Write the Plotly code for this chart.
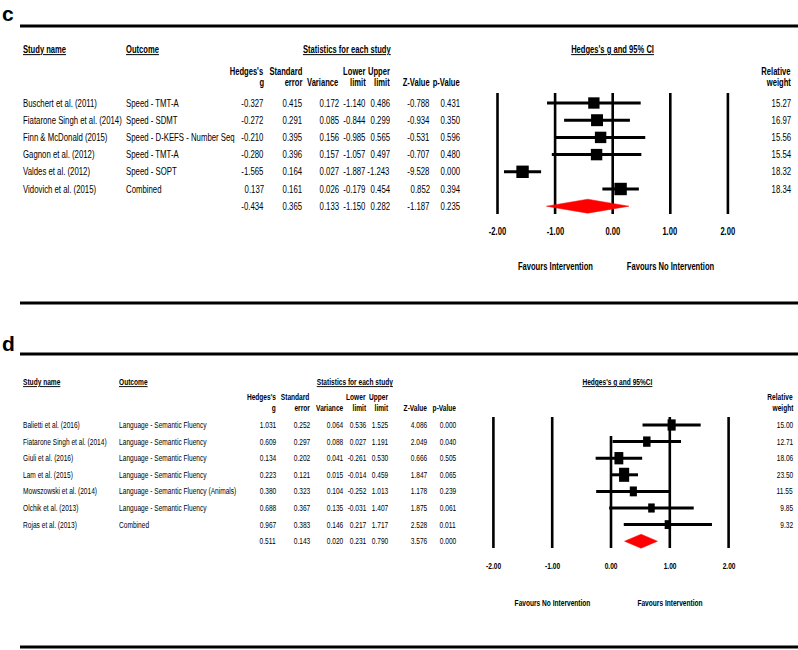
import plotly.graph_objects as go

W, H = 798, 650

# ---------------- data : panel c ----------------
c_studies = ["Buschert et al. (2011)", "Fiatarone Singh et al. (2014)", "Finn & McDonald (2015)",
             "Gagnon et al. (2012)", "Valdes et al. (2012)", "Vidovich et al. (2015)"]
c_outcomes = ["Speed - TMT-A", "Speed - SDMT", "Speed - D-KEFS - Number Seq",
              "Speed - TMT-A", "Speed - SOPT", "Combined"]
c_g = [-0.327, -0.272, -0.210, -0.280, -1.565, 0.137]
c_se = [0.415, 0.291, 0.395, 0.396, 0.164, 0.161]
c_var = [0.172, 0.085, 0.156, 0.157, 0.027, 0.026]
c_lo = [-1.140, -0.844, -0.985, -1.057, -1.887, -0.179]
c_hi = [0.486, 0.299, 0.565, 0.497, -1.243, 0.454]
c_z = [-0.788, -0.934, -0.531, -0.707, -9.528, 0.852]
c_p = [0.431, 0.350, 0.596, 0.480, 0.000, 0.394]
c_w = [15.27, 16.97, 15.56, 15.54, 18.32, 18.34]
c_summary = [-0.434, 0.365, 0.133, -1.150, 0.282, -1.187, 0.235]  # g, se, var, lo, hi, z, p

# ---------------- data : panel d ----------------
d_studies = ["Balietti et al. (2016)", "Fiatarone Singh et al. (2014)", "Giuli et al. (2016)",
             "Lam et al. (2015)", "Mowszowski et al. (2014)", "Olchik et al. (2013)", "Rojas et al. (2013)"]
d_outcomes = ["Language - Semantic Fluency", "Language - Semantic Fluency", "Language - Semantic Fluency",
              "Language - Semantic Fluency", "Language - Semantic Fluency (Animals)",
              "Language - Semantic Fluency", "Combined"]
d_g = [1.031, 0.609, 0.134, 0.223, 0.380, 0.688, 0.967]
d_se = [0.252, 0.297, 0.202, 0.121, 0.323, 0.367, 0.383]
d_var = [0.064, 0.088, 0.041, 0.015, 0.104, 0.135, 0.146]
d_lo = [0.536, 0.027, -0.261, -0.014, -0.252, -0.031, 0.217]
d_hi = [1.525, 1.191, 0.530, 0.459, 1.013, 1.407, 1.717]
d_z = [4.086, 2.049, 0.666, 1.847, 1.178, 1.875, 2.528]
d_p = [0.000, 0.040, 0.505, 0.065, 0.239, 0.061, 0.011]
d_w = [15.00, 12.71, 18.06, 23.50, 11.55, 9.85, 9.32]
d_summary = [0.511, 0.143, 0.020, 0.231, 0.790, 3.576, 0.000]

axis_ticks = [-2.0, -1.0, 0.0, 1.0, 2.0]
col_head1 = ["Hedges's", "Standard", "", "Lower", "Upper", "", ""]
col_head2 = ["g", "error", "Variance", "limit", "limit", "Z-Value", "p-Value"]

SANS = "Liberation Sans, Arial, Helvetica, sans-serif"


def px(x):
    return x / W


def py(y):
    return 1 - y / H


annotations = []
shapes = []
fig = go.Figure()


def txt(text, x, y, yref="paper", xanchor="left", size=10, bold=False, underline=False,
        squeeze=1.0, xref="paper"):
    t = text
    if underline:
        t = "<u>" + t + "</u>"
    if bold:
        t = "<b>" + t + "</b>"
    annotations.append(dict(text=t, x=(px(x) if xref == "paper" else x), y=(py(y) if yref == "paper" else y),
                            xref=xref, yref=yref, xanchor=xanchor, yanchor="middle", showarrow=False,
                            name="%.3f" % squeeze,
                            font=dict(family=SANS, size=size, color="black")))


def panel(S, studies, outcomes, g, se, var, lo, hi, z, p, w, summ):
    xa, ya = S["xa"], S["ya"]
    step, row0 = S["step"], S["row0"]
    n = len(studies)
    sq_n, sq_b = S["sq_n"], S["sq_b"]

    def rowval(ypx):
        return (ypx - row0) / step

    # thick rules + letter
    for yy in S["rules"]:
        shapes.append(dict(type="line", xref="paper", yref="paper", x0=px(20), x1=1, y0=py(yy), y1=py(yy),
                           line=dict(color="black", width=3)))
    txt(S["letter"], 0, S["letter_y"], size=21, bold=True)

    # headers
    hs = S["hsize"]
    txt("Study name", 21, S["head_y"], size=hs, bold=True, underline=True, squeeze=sq_b)
    txt("Outcome", S["out_x"], S["head_y"], size=hs, bold=True, underline=True, squeeze=sq_b)
    txt("Statistics for each study", S["stats_c"], S["head_y"], xanchor="center", size=hs, bold=True,
        underline=True, squeeze=sq_b)
    txt(S["forest_title"], S["forest_c"], S["head_y"], xanchor="center", size=hs, bold=True,
        underline=True, squeeze=sq_b)
    for k, xr in enumerate(S["cols"]):
        if col_head1[k]:
            txt(col_head1[k], xr, S["h1"], xanchor="right", size=hs, bold=True, squeeze=sq_b)
        txt(col_head2[k], xr, S["h2"], xanchor="right", size=hs, bold=True, squeeze=sq_b)
    txt("Relative", S["w_x"], S["h1"], xanchor="right", size=hs, bold=True, squeeze=sq_b)
    txt("weight", S["w_x"], S["h2"], xanchor="right", size=hs, bold=True, squeeze=sq_b)

    # table rows
    fs = S["fsize"]
    for i in range(n):
        txt(studies[i], 21, i, yref=ya, size=fs, squeeze=sq_n)
        txt(outcomes[i], S["out_x"], i, yref=ya, size=fs, squeeze=sq_n)
        vals = [g[i], se[i], var[i], lo[i], hi[i], z[i], p[i]]
        for k, v in enumerate(vals):
            txt("%.3f" % v, S["cols"][k], i, yref=ya, xanchor="right", size=fs, squeeze=sq_n)
        txt("%.2f" % w[i], S["w_x"], i, yref=ya, xanchor="right", size=fs, squeeze=sq_n)
    for k, v in enumerate(summ):
        txt("%.3f" % v, S["cols"][k], n, yref=ya, xanchor="right", size=fs, squeeze=sq_n)

    # axis tick labels (placed through the forest x axis)
    for t in axis_ticks:
        txt("%.2f" % t, t, S["axis_y"], xref=xa, xanchor="center", size=hs, bold=True, squeeze=sq_b)

    # favours labels (centred on -1 and +1 of the forest axis)
    txt(S["fav"][0], -1.0, S["fav_y"], xref=xa, xanchor="center", size=hs, bold=True, squeeze=sq_b)
    txt(S["fav"][1], 1.0, S["fav_y"], xref=xa, xanchor="center", size=hs, bold=True, squeeze=sq_b)

    # vertical reference lines
    vx, vy = [], []
    for t in axis_ticks:
        top = S["zero_top"] if t == 0 else S["line_top"]
        vx += [t, t, None]
        vy += [rowval(top), rowval(S["line_bot"]), None]
    fig.add_trace(go.Scatter(x=vx, y=vy, xaxis=xa, yaxis=ya, mode="lines",
                             line=dict(color="black", width=2.6), hoverinfo="skip", showlegend=False))
    # CI lines
    cx, cy = [], []
    for i in range(n):
        cx += [lo[i], hi[i], None]
        cy += [i, i, None]
    fig.add_trace(go.Scatter(x=cx, y=cy, xaxis=xa, yaxis=ya, mode="lines",
                             line=dict(color="black", width=3), hoverinfo="skip", showlegend=False))
    # boxes (area ~ weight)
    side = [S["box_k"] * (wi ** 0.5) for wi in w]
    widths_data = [s * S["box_aspect"] / S["unit"] for s in side]
    heights_rows = [s / step for s in side]
    fig.add_trace(go.Bar(y=list(range(n)), x=widths_data, base=[g[i] - widths_data[i] / 2 for i in range(n)],
                         width=heights_rows, orientation="h", xaxis=xa, yaxis=ya,
                         marker=dict(color="black", line=dict(width=0)), hoverinfo="skip", showlegend=False))
    # summary diamond
    hh = 7.0 / step
    fig.add_trace(go.Scatter(x=[summ[3], summ[0], summ[4], summ[0], summ[3]],
                             y=[n, n - hh, n, n + hh, n], xaxis=xa, yaxis=ya, mode="lines",
                             fill="toself", fillcolor="#ff0000", line=dict(color="#ff0000", width=0.5),
                             hoverinfo="skip", showlegend=False))


C = dict(xa="x", ya="y", step=17.2, row0=103.0, x0=612.7, unit=57.6,
         rules=[26, 303], letter="c", letter_y=14,
         head_y=50, h1=71, h2=82, out_x=124, stats_c=347, forest_c=612,
         forest_title="Hedges's g and 95% CI",
         cols=[266, 304, 341, 368, 392, 432, 462], w_x=793,
         hsize=10, fsize=10, sq_n=0.78, sq_b=0.76,
         fav=["Favours Intervention", "Favours No Intervention"], fav_y=266,
         line_top=93, zero_top=93, line_bot=214, box_k=2.9, box_aspect=1.0, axis_y=232)
D = dict(xa="x2", ya="y2", step=16.6, row0=425.0, x0=611.0, unit=58.8,
         rules=[354, 647], letter="d", letter_y=343,
         head_y=382, h1=397, h2=408, out_x=117, stats_c=355, forest_c=617,
         forest_title="Hedges's g and 95%CI",
         cols=[278, 312, 345, 368, 390, 429, 458], w_x=795,
         hsize=9.3, fsize=9.3, sq_n=0.71, sq_b=0.71,
         fav=["Favours No Intervention", "Favours Intervention"], fav_y=603,
         line_top=417, zero_top=436, line_bot=548, box_k=2.9, box_aspect=0.72, axis_y=566)

panel(C, c_studies, c_outcomes, c_g, c_se, c_var, c_lo, c_hi, c_z, c_p, c_w, c_summary)
panel(D, d_studies, d_outcomes, d_g, d_se, d_var, d_lo, d_hi, d_z, d_p, d_w, d_summary)


def xaxis_for(S, overlay=None):
    ax = dict(domain=[0, 1], range=[-S["x0"] / S["unit"], (W - S["x0"]) / S["unit"]],
              visible=False, showgrid=False, zeroline=False, fixedrange=True)
    if overlay:
        ax["overlaying"] = overlay
    return ax


def yaxis_for(S, overlay=None):
    ax = dict(domain=[0, 1], range=[(H - S["row0"]) / S["step"], -S["row0"] / S["step"]],
              visible=False, showgrid=False, zeroline=False, fixedrange=True)
    if overlay:
        ax["overlaying"] = overlay
    return ax


fig.update_layout(
    width=W, height=H, autosize=False,
    margin=dict(l=0, r=0, t=0, b=0),
    paper_bgcolor="white", plot_bgcolor="white",
    barmode="overlay", showlegend=False,
    xaxis=xaxis_for(C), xaxis2=xaxis_for(D, "x"),
    yaxis=yaxis_for(C), yaxis2=yaxis_for(D, "y"),
    annotations=annotations, shapes=shapes,
)

# The source figure uses a condensed (Arial Narrow-like) face; emulate it by squeezing each
# annotation's text horizontally about its anchor edge.
POST = """
document.body.style.margin='0px';document.body.style.padding='0px';
var gd=document.getElementById('{plot_id}');
function squeeze(){
  try{
    var anns=(gd.layout&&gd.layout.annotations)||[];
    gd.querySelectorAll('g.annotation').forEach(function(g){
      var i=+g.getAttribute('data-index');var a=anns[i];if(!a)return;
      var s=parseFloat(a.name);if(!s||s===1)return;
      var t=g.querySelector('text.annotation-text');if(!t)return;
      var b=t.getBBox();
      var ox=a.xanchor==='right'?b.x+b.width:(a.xanchor==='left'?b.x:b.x+b.width/2);
      t.setAttribute('transform','translate('+ox+',0) scale('+s+',1) translate('+(-ox)+',0)');
    });
  }catch(e){}
}
squeeze();
"""

fig.write_html("out.html", config={"displayModeBar": False}, post_script=POST)
